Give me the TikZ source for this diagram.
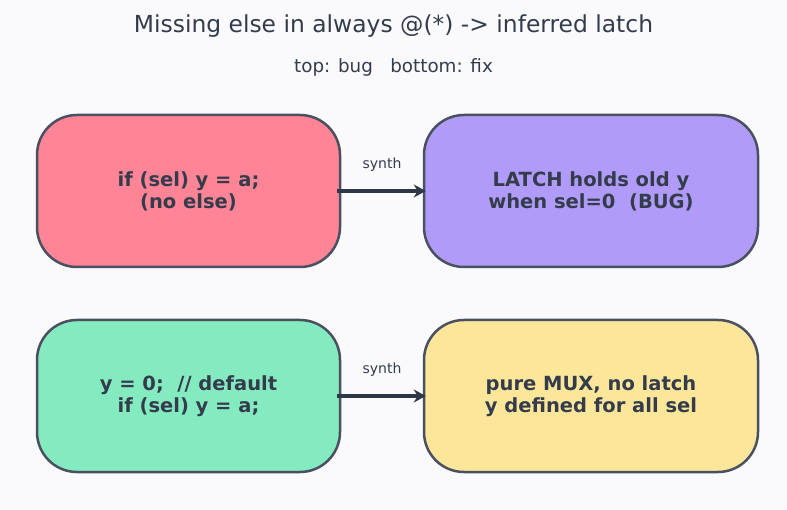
\documentclass[tikz,border=0pt]{standalone}
\usepackage{fontspec}
\setmainfont{DejaVu Sans}
\usetikzlibrary{arrows.meta}
\definecolor{bg}{HTML}{FAFAFD}
\definecolor{txt}{HTML}{343C4C}
\definecolor{edge}{HTML}{4A5060}
\definecolor{arr}{HTML}{2D3748}
\definecolor{cred}{HTML}{FF8496}
\definecolor{cpur}{HTML}{B09CF8}
\definecolor{cgrn}{HTML}{84EAC0}
\definecolor{cyel}{HTML}{FCE69A}
\tikzset{
  box/.style={draw=edge, line width=2.5pt, rounded corners=40pt, minimum height=152pt, align=center, text=txt, font=\fontsize{19.5}{22}\selectfont\bfseries},
  conn/.style={draw=arr, line width=3.5pt, shorten <=-4pt, shorten >=-3pt, -{Stealth[length=12pt,width=13pt]}},
  lbl/.style={text=txt, font=\fontsize{14}{16}\selectfont}
}
\begin{document}
\begin{tikzpicture}[x=1pt,y=-1pt]
\fill[bg] (0,0) rectangle (787,510);
\useasboundingbox (0,0) rectangle (787,510);
\node[text=txt, font=\fontsize{23.4}{26}\selectfont] (title) at (393.5,26) {Missing else in always @(*) -> inferred latch};
\node[text=txt, font=\fontsize{18.3}{20}\selectfont] (sub) at (393.5,67.5) {top: bug \ \ bottom: fix};
\node[box, fill=cred, minimum width=303pt] (a) at (188.5,191) {if (sel) y = a;\\(no else)};
\node[box, fill=cpur, minimum width=334pt] (b) at (591,191) {LATCH holds old y\\when sel=0\ \ (BUG)};
\node[box, fill=cgrn, minimum width=303pt] (c) at (188.5,396) {y = 0;\ \ // default\\if (sel) y = a;};
\node[box, fill=cyel, minimum width=334pt] (d) at (591,396) {pure MUX, no latch\\y defined for all sel};
\draw[conn] (a.east) -- node[lbl, above=15pt] {synth} (b.west);
\draw[conn] (c.east) -- node[lbl, above=15pt] {synth} (d.west);
\end{tikzpicture}
\end{document}
